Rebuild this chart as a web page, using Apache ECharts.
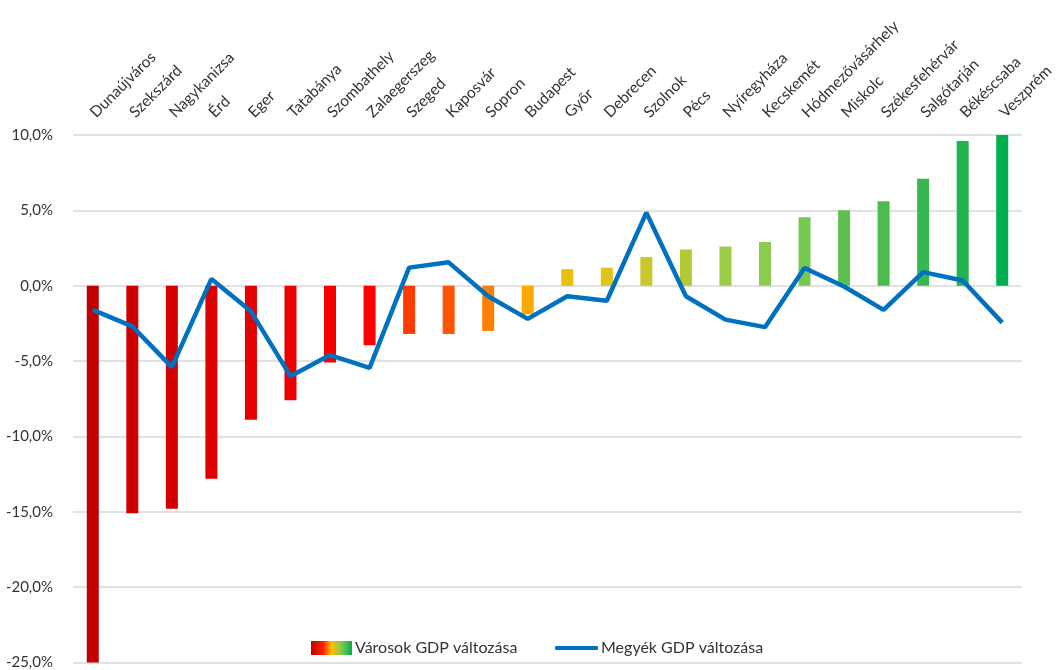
<!DOCTYPE html>
<html><head><meta charset="utf-8">
<script src="https://cdn.jsdelivr.net/npm/echarts@6/dist/echarts.min.js"></script>
<style>html,body{margin:0;padding:0;background:#fff}#c{width:1060px;height:670px}</style>
</head><body><div id="c"></div>
<script>
const cities = ['Dunaújváros','Szekszárd','Nagykanizsa','Érd','Eger','Tatabánya','Szombathely','Zalaegerszeg','Szeged','Kaposvár','Sopron','Budapest','Győr','Debrecen','Szolnok','Pécs','Nyíregyháza','Kecskemét','Hódmezővásárhely','Miskolc','Székesfehérvár','Salgótarján','Békéscsaba','Veszprém'];
const cityGdp = [-25.0,-15.1,-14.8,-12.8,-8.9,-7.6,-5.1,-3.95,-3.2,-3.2,-3.0,-1.9,1.1,1.2,1.9,2.4,2.6,2.9,4.55,5.0,5.6,7.1,9.6,10.0];
const countyGdp = [-1.6,-2.7,-5.4,0.45,-1.7,-6.0,-4.6,-5.45,1.2,1.55,-0.7,-2.2,-0.7,-1.0,4.85,-0.7,-2.25,-2.75,1.17,-0.05,-1.6,0.9,0.35,-2.45];
const yTicks = {min:-25, max:10, interval:5};
const barColors = ['#C00000','#CC0000','#D40000','#DC0000','#E40000','#EC0000','#F40000','#FF0000','#FF3C00','#FF5400','#FF8000','#FFA800','#E8C014','#E0C418','#C8C828','#B4C834','#9CCC46','#8ACC4E','#76C850','#5EC050','#4ABC50','#36B850','#1EB450','#00B050'];
const font = 'Lato, "Open Sans", sans-serif';
const legendText = {fontSize:16,color:'#333333',fontFamily:font,padding:[0,0,0,-2]};
const chart = echarts.init(document.getElementById('c'));
chart.setOption({
  animation:false,
  textStyle:{fontFamily:font},
  grid:{left:73,right:38,top:135,bottom:7},
  legend:[
    {left:306, top:635, itemWidth:41, itemHeight:14, textStyle:legendText,
      data:[{name:'Városok GDP változása', icon:'rect', itemStyle:{color:new echarts.graphic.LinearGradient(0,0,1,0,[
        {offset:0,color:'#C00000'},{offset:0.3,color:'#FF2000'},{offset:0.5,color:'#FFC000'},{offset:0.75,color:'#7CC850'},{offset:1,color:'#00B050'}])}}]},
    {left:550, top:635, itemWidth:43, itemHeight:4, textStyle:legendText,
      data:[{name:'Megyék GDP változása', icon:'roundRect', itemStyle:{color:'#0070C0'}}]}
  ],
  xAxis:{
    type:'category', data:cities, position:'top',
    axisLine:{show:false}, axisTick:{show:false},
    axisLabel:{rotate:45, interval:0, margin:20, fontSize:15.5, color:'#333333', fontFamily:font}
  },
  yAxis:{
    type:'value', min:yTicks.min, max:yTicks.max, interval:yTicks.interval,
    axisLabel:{margin:20, fontSize:15, color:'#333333', fontFamily:font,
      formatter:v=>v.toFixed(1).replace('.',',')+'%'},
    splitLine:{lineStyle:{color:'#D9D9D9',width:1.5}},
    axisLine:{show:false}, axisTick:{show:false}
  },
  series:[
    {name:'Városok GDP változása', type:'bar', barWidth:12,
      data:cityGdp.map((v,i)=>({value:v,itemStyle:{color:barColors[i]}})),
      itemStyle:{color:'#C00000'}},
    {name:'Megyék GDP változása', type:'line', data:countyGdp, symbol:'none',
      lineStyle:{color:'#0070C0',width:4.5}, itemStyle:{color:'#0070C0'}}
  ]
});
</script></body></html>
